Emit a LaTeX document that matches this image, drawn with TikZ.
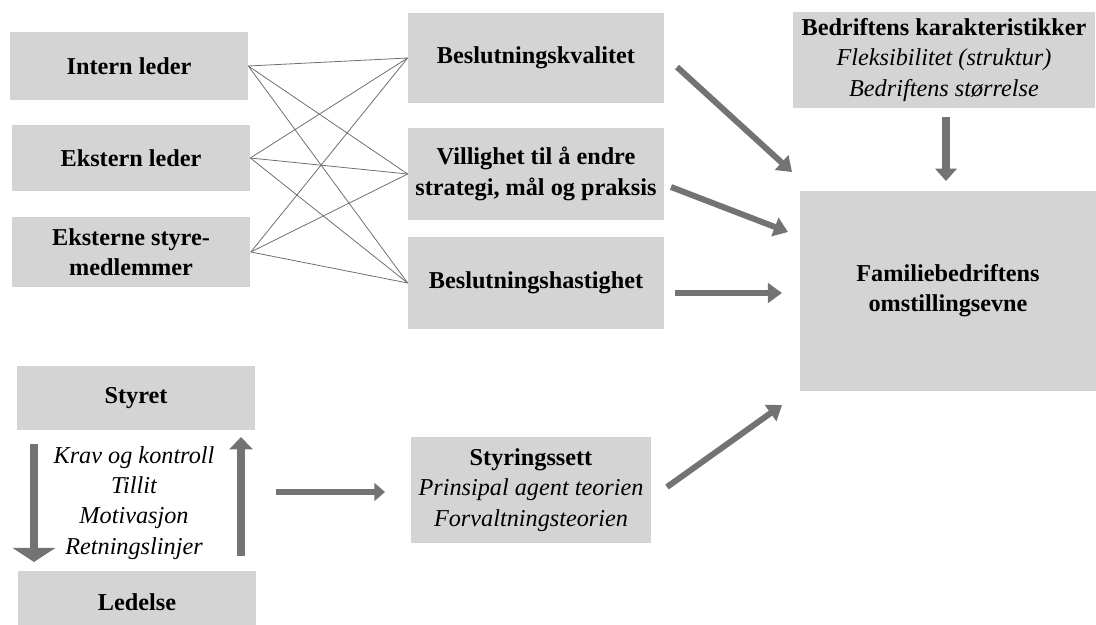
\documentclass[tikz,border=0pt]{standalone}
\usepackage{fontspec}
\setmainfont{Liberation Serif}
\usetikzlibrary{arrows.meta}
\definecolor{boxgray}{RGB}{212,212,212}
\definecolor{arrowgray}{RGB}{115,115,115}
\definecolor{linegray}{RGB}{110,110,110}
\newcommand{\diagfont}{\fontsize{13.8}{17.2}\selectfont}

\begin{document}
\begin{tikzpicture}[x=0.02cm,y=-0.02cm,
  box/.style={fill=boxgray, align=center, inner sep=0pt, font=\diagfont\bfseries},
  plain/.style={align=center, font=\diagfont\itshape},
  thinlink/.style={draw=linegray, line width=0.45pt},
  fat/.style={draw=arrowgray, line width=3.4pt, -{Triangle[width=11pt,length=8pt]}}]
		%%%%% START %%%%%
		\useasboundingbox (0,0) rectangle (1096,625);
		
		% left column
		\node[box, minimum width=4.76cm, minimum height=1.38cm] (intern) at (129,66) {Intern leder};
		\node[box, minimum width=4.76cm, minimum height=1.34cm] (ekstern) at (131,158) {Ekstern leder};
		\node[box, minimum width=4.78cm, minimum height=1.40cm] (styre) at (131,252) {Eksterne styre-\\medlemmer};
		
		% middle column
		\node[box, minimum width=5.12cm, minimum height=1.82cm] (kval) at (536,58) {Beslutningskvalitet};
		\node[box, minimum width=5.12cm, minimum height=1.84cm] (vilje) at (536,174) {Villighet til å endre\\strategi, mål og praksis};
		\node[box, minimum width=5.12cm, minimum height=1.86cm] (hast) at (536,283) {Beslutningshastighet};
		
		% right column
		\node[box, minimum width=6.06cm, minimum height=1.92cm] (karak) at (944,60) {Bedriftens karakteristikker\\\textit{\mdseries Fleksibilitet (struktur)}\\\textit{\mdseries Bedriftens størrelse}};
		\node[box, minimum width=5.92cm, minimum height=4.00cm] (fam) at (948,291) {Familiebedriftens\\omstillingsevne};
		
		% bottom part
		\node[box, minimum width=4.78cm, minimum height=1.28cm] (styret) at (136,398) {Styret};
		\node[box, minimum width=4.76cm, minimum height=1.24cm] (ledelse) at (137,602) {Ledelse};
		\node[plain] (tiltak) at (134,503) {Krav og kontroll\\Tillit\\Motivasjon\\Retningslinjer};
		\node[box, minimum width=4.80cm, minimum height=2.12cm] (sett) at (531,490) {Styringssett\\\textit{\mdseries Prinsipal agent teorien}\\\textit{\mdseries Forvaltningsteorien}};
		
		% all-to-all links
		\foreach \a in {intern,ekstern,styre}
			\foreach \b in {kval,vilje,hast}
				\draw[thinlink] (\a.east) -- (\b.west);
		
		% end points of the thick arrows
		\coordinate (k1) at (677,67);  \coordinate (k2) at (792,172);
		\coordinate (v1) at (671,187); \coordinate (v2) at (788,232);
		\coordinate (h1) at (675,293); \coordinate (h2) at (782,293);
		\coordinate (c1) at (946,117); \coordinate (c2) at (946,181);
		\coordinate (s1) at (667,487); \coordinate (s2) at (782,405);
		\coordinate (l1) at (276,492); \coordinate (l2) at (385,492);
		\coordinate (d1) at (34,444);  \coordinate (d2) at (34,562);
		\coordinate (u1) at (241,556); \coordinate (u2) at (241,437);
		
		\draw[fat] (k1) -- (k2);
		\draw[fat] (v1) -- (v2);
		\draw[fat] (h1) -- (h2);
		\draw[fat, line width=4pt, -{Triangle[width=12pt,length=7pt]}] (c1) -- (c2);
		\draw[fat] (s1) -- (s2);
		\draw[fat, line width=3pt, -{Triangle[width=10pt,length=6pt]}] (l1) -- (l2);
		\draw[fat, line width=4.5pt, -{Triangle[width=24pt,length=8pt]}] (d1) -- (d2);
		\draw[fat, line width=4pt, -{Triangle[width=13pt,length=7pt]}] (u1) -- (u2);
		
		%%%%% END %%%%%
\end{tikzpicture}
\end{document}
